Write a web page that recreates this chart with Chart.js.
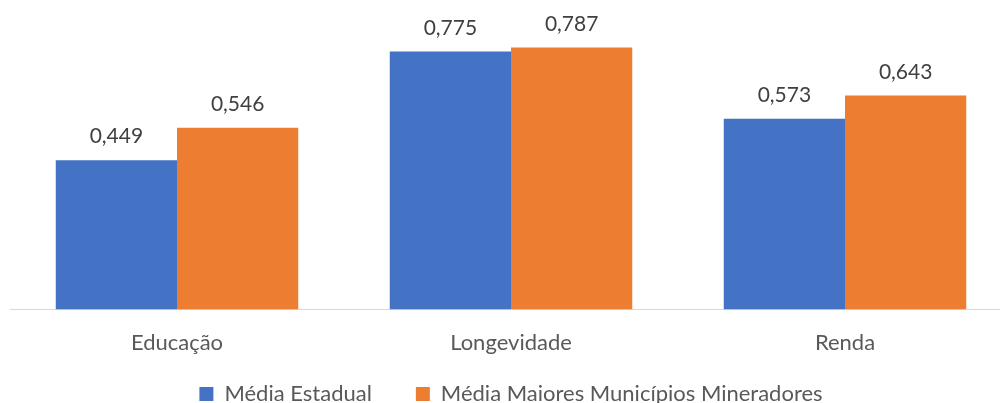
<!DOCTYPE html>
<html>
<head>
<meta charset="utf-8">
<script src="https://cdn.jsdelivr.net/npm/chart.js@4.4.1/dist/chart.umd.min.js"></script>
<style>
  html, body { margin: 0; padding: 0; background: #fff; overflow: hidden; height: 403px; }
  #wrap { width: 1012px; height: 415px; position: relative; }
</style>
</head>
<body>
<div id="wrap"><canvas id="chart"></canvas></div>
<script>
const categories = ['Educação', 'Longevidade', 'Renda'];
const seriesNames = ['Média Estadual', 'Média Maiores Municípios Mineradores'];
const mediaEstadual = [0.449, 0.775, 0.573];
const mediaMineradores = [0.546, 0.787, 0.643];

// draws the value above each bar (comma decimal, like the original)
const valueLabels = {
  id: 'valueLabels',
  afterDatasetsDraw(chart) {
    const ctx = chart.ctx;
    ctx.save();
    ctx.font = '21px Lato';
    ctx.fillStyle = '#404040';
    ctx.textAlign = 'center';
    ctx.textBaseline = 'alphabetic';
    chart.data.datasets.forEach((ds, i) => {
      chart.getDatasetMeta(i).data.forEach((bar, j) => {
        const txt = ds.data[j].toFixed(3).replace('.', ',');
        ctx.fillText(txt, bar.x, bar.y - 17);
      });
    });
    ctx.restore();
  }
};

// legend padding is big for the gap between items; take back the space above it
const LEGEND_TRIM = 29;
const legendTrim = {
  id: 'legendTrim',
  beforeInit(chart) {
    const fit = chart.legend.fit;
    chart.legend.fit = function () {
      fit.call(this);
      this.height -= LEGEND_TRIM;
    };
  },
  afterLayout(chart) {
    // items are placed from legend.top, so put it back where it was
    chart.legend.top -= LEGEND_TRIM;
  }
};

new Chart(document.getElementById('chart'), {
  type: 'bar',
  data: {
    labels: categories,
    datasets: [
      { label: seriesNames[0], data: mediaEstadual, backgroundColor: '#4472C4' },
      { label: seriesNames[1], data: mediaMineradores, backgroundColor: '#ED7D31' }
    ]
  },
  options: {
    responsive: true,
    maintainAspectRatio: false,
    animation: false,
    layout: { padding: { left: 10, right: 0, top: 10, bottom: 0 } },
    datasets: { bar: { barPercentage: 1, categoryPercentage: 0.726 } },
    scales: {
      x: {
        grid: { display: false },
        border: { display: true, color: '#D9D9D9', width: 1 },
        ticks: { color: '#595959', font: { family: 'Lato', size: 22 }, padding: 12 }
      },
      y: { display: false, min: 0, max: 0.9 }
    },
    plugins: {
      tooltip: { enabled: false },
      legend: {
        position: 'bottom',
        labels: {
          color: '#595959',
          font: { family: 'Lato', size: 22 },
          boxWidth: 14,
          boxHeight: 14,
          padding: 44
        }
      }
    }
  },
  plugins: [valueLabels, legendTrim]
});
</script>
</body>
</html>
